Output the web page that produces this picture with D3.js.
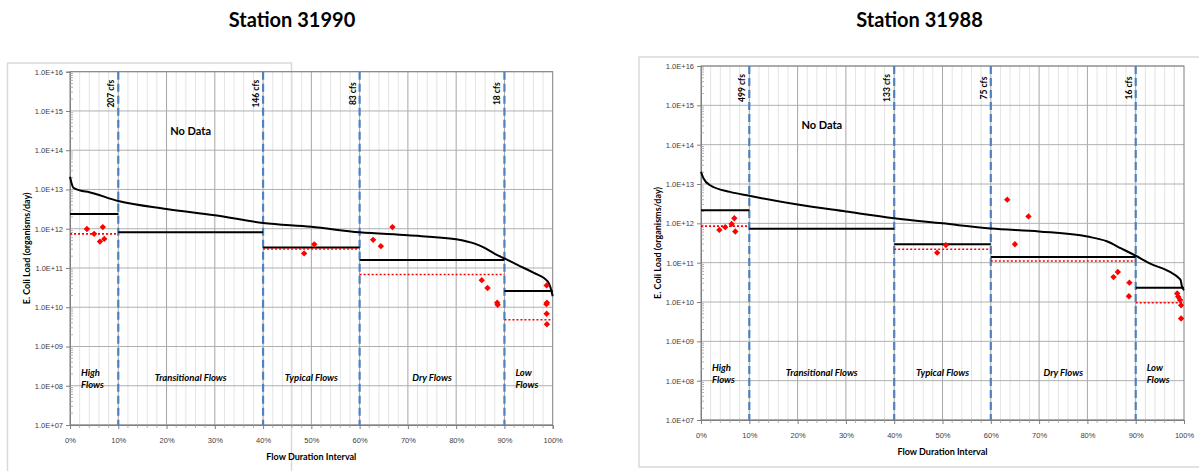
<!DOCTYPE html>
<html>
<head>
<meta charset="utf-8">
<script src="https://cdn.jsdelivr.net/npm/d3@7"></script>
<style>
  body { margin: 0; background: #fff; }
  svg { display: block; font-family: Lato, "Open Sans", "Liberation Sans", sans-serif; }
</style>
</head>
<body>
<svg id="chart" width="1199" height="471"></svg>
<script>
// ---------------- data ----------------
const stationTitles = ["Station 31990", "Station 31988"];
const xTickLabels = ["0%","10%","20%","30%","40%","50%","60%","70%","80%","90%","100%"];
const yTickLabels = ["1.0E+07","1.0E+08","1.0E+09","1.0E+10","1.0E+11","1.0E+12","1.0E+13","1.0E+14","1.0E+15","1.0E+16"];
const zoneBounds = [10, 40, 60, 90];
const zoneNames = [["High","Flows"],["Transitional Flows"],["Typical Flows"],["Dry Flows"],["Low","Flows"]];
const zoneStarts = [0, 10, 40, 60, 90];
const zoneEnds = [10, 40, 60, 90, 100];

// Station 31990
const flowLabelsA = ["207 cfs", "146 cfs", "83 cfs", "18 cfs"];
const curvePctA  = [0, 0.7, 2, 4, 10, 20, 30, 40, 50, 60, 70, 80, 84, 86, 88, 90, 93, 96, 99, 99.5, 100];
const curveLoadA = [2.1e13, 1.1e13, 9.5e12, 8.5e12, 5.1e12, 3.2e12, 2.2e12, 1.4e12, 1.12e12, 8.1e11, 6.8e11, 5.4e11, 4.1e11, 3.2e11, 2.3e11, 1.75e11, 1.15e11, 7.6e10, 4.5e10, 3.3e10, 1.9e10];
const allowableA = [2.37e12, 8.1e11, 3.3e11, 1.6e11, 2.6e10];
const geomeanA   = [7.4e11, null, 3.05e11, 6.8e10, 4.8e9];
const samplePctA  = [3.5, 5.0, 6.2, 6.8, 7.1, 48.5, 50.6, 62.8, 64.4, 66.8, 85.3, 86.5, 88.5, 88.6, 98.75, 98.8, 98.7, 98.75, 98.8];
const sampleLoadA = [9.8e11, 7.4e11, 4.7e11, 1.1e12, 5.5e11, 2.35e11, 4.0e11, 5.2e11, 3.6e11, 1.1e12, 4.9e10, 3.1e10, 1.3e10, 1.15e10, 3.6e10, 1.3e10, 1.2e10, 6.8e9, 3.7e9];
const noDataPosA = [25, 2.9e14];

// Station 31988
const flowLabelsB = ["499 cfs", "133 cfs", "75 cfs", "16 cfs"];
const curvePctB  = [0, 0.5, 1.9, 6, 10, 20, 30, 40, 50, 60, 70, 80, 84, 87, 90, 93, 97, 99, 99.3, 99.6, 100];
const curveLoadB = [2.05e13, 1.4e13, 9.3e12, 6.3e12, 5.0e12, 3.0e12, 2.0e12, 1.35e12, 1.0e12, 7.4e11, 6.2e11, 4.6e11, 3.5e11, 2.3e11, 1.5e11, 9.5e10, 5.9e10, 4.0e10, 3.6e10, 2.4e10, 2.0e10];
const allowableB = [2.15e12, 7.3e11, 2.95e11, 1.4e11, 2.3e10];
const geomeanB   = [8.5e11, null, 2.2e11, 1.1e11, 9.6e9];
const samplePctB  = [3.8, 5.0, 6.35, 6.9, 7.1, 48.9, 50.7, 63.4, 65.0, 67.8, 85.4, 86.3, 88.7, 88.6, 98.6, 98.8, 99.2, 99.4, 99.4];
const sampleLoadB = [6.8e11, 8.0e11, 9.6e11, 1.35e12, 6.2e11, 1.8e11, 2.8e11, 4.0e12, 2.95e11, 1.5e12, 4.3e10, 5.8e10, 3.1e10, 1.4e10, 1.65e10, 1.35e10, 1.12e10, 8.3e9, 3.8e9];
const noDataPosB = [25, 3.0e14];

// ---------------- drawing ----------------
const svg = d3.select("#chart");

function drawChart(cfg) {
  const g = svg.append("g");
  // outer frame
  g.append("rect").attr("x", cfg.frame[0]).attr("y", cfg.frame[1])
    .attr("width", cfg.frame[2]).attr("height", cfg.frame[3])
    .attr("fill", "none").attr("stroke", "#d9d9d9").attr("stroke-width", 1.5);

  // title
  g.append("text").attr("x", cfg.titleX).attr("y", 27)
    .attr("text-anchor", "middle").attr("font-size", 20).attr("font-weight", "bold")
    .text(cfg.title);

  const x = d3.scaleLinear().domain([0, 100]).range([cfg.x0, cfg.x1]);
  const y = d3.scaleLog().domain([1e7, 1e16]).range([cfg.y1, cfg.y0]);

  // minor vertical grid (every 2%)
  const minorX = d3.range(2, 100, 2).filter(v => v % 10 !== 0);
  g.append("g").selectAll("line").data(minorX).join("line")
    .attr("x1", d => x(d)).attr("x2", d => x(d))
    .attr("y1", cfg.y0).attr("y2", cfg.y1)
    .attr("stroke", "#e3e3e3").attr("stroke-width", 1);
  // major vertical grid
  g.append("g").selectAll("line").data(d3.range(10, 100, 10)).join("line")
    .attr("x1", d => x(d)).attr("x2", d => x(d))
    .attr("y1", cfg.y0).attr("y2", cfg.y1)
    .attr("stroke", "#a6a6a6").attr("stroke-width", 1);
  // horizontal grid at decades
  const decades = d3.range(7, 17).map(e => Math.pow(10, e));
  g.append("g").selectAll("line").data(decades).join("line")
    .attr("x1", cfg.x0).attr("x2", cfg.x1)
    .attr("y1", d => y(d)).attr("y2", d => y(d))
    .attr("stroke", "#b0b0b0").attr("stroke-width", 1);

  // plot border
  g.append("rect").attr("x", cfg.x0).attr("y", cfg.y0)
    .attr("width", cfg.x1 - cfg.x0).attr("height", cfg.y1 - cfg.y0)
    .attr("fill", "none").attr("stroke", "#7f7f7f").attr("stroke-width", 1);

  // y axis
  const yAxis = d3.axisLeft(y).tickValues(decades).tickSize(4)
    .tickFormat((d, i) => yTickLabels[i]);
  const ya = g.append("g").attr("transform", `translate(${cfg.x0},0)`).call(yAxis);
  ya.select(".domain").attr("stroke", "#7f7f7f");
  ya.selectAll(".tick line").attr("stroke", "#7f7f7f");
  ya.selectAll("text").attr("font-size", 7.5).attr("fill", "#404040")
    .attr("font-family", "'Liberation Sans', Arial, sans-serif");
  // y minor ticks inside
  const minorY = [];
  for (let e = 7; e < 16; e++) for (let m = 2; m <= 9; m++) minorY.push(m * Math.pow(10, e));
  g.append("g").selectAll("line").data(minorY).join("line")
    .attr("x1", cfg.x0).attr("x2", cfg.x0 + 3)
    .attr("y1", d => y(d)).attr("y2", d => y(d))
    .attr("stroke", "#a0a0a0").attr("stroke-width", 0.8);

  // x axis
  const xAxis = d3.axisBottom(x).tickValues(d3.range(0, 101, 10)).tickSize(4)
    .tickFormat((d, i) => xTickLabels[i]);
  const xa = g.append("g").attr("transform", `translate(0,${cfg.y1})`).call(xAxis);
  xa.select(".domain").attr("stroke", "#7f7f7f");
  xa.selectAll(".tick line").attr("stroke", "#7f7f7f");
  xa.selectAll("text").attr("font-size", 7.5).attr("fill", "#404040").attr("dy", "1.5em")
    .attr("font-family", "'Liberation Sans', Arial, sans-serif");
  g.append("g").selectAll("line").data(minorX).join("line")
    .attr("x1", d => x(d)).attr("x2", d => x(d))
    .attr("y1", cfg.y1).attr("y2", cfg.y1 + 3)
    .attr("stroke", "#a0a0a0").attr("stroke-width", 0.8);

  // axis titles
  g.append("text").attr("x", (cfg.x0 + cfg.x1) / 2).attr("y", cfg.y1 + 35)
    .attr("text-anchor", "middle").attr("font-size", 9).attr("font-weight", "bold")
    .text("Flow Duration Interval");
  g.append("text")
    .attr("transform", `translate(${cfg.x0 - 40},${(cfg.y0 + cfg.y1) / 2}) rotate(-90)`)
    .attr("text-anchor", "middle").attr("font-size", 9).attr("font-weight", "bold")
    .text("E. Coli Load (organisms/day)");

  // zone boundaries (dashed blue)
  g.append("g").selectAll("line").data(zoneBounds).join("line")
    .attr("x1", d => x(d)).attr("x2", d => x(d))
    .attr("y1", cfg.y0).attr("y2", cfg.y1)
    .attr("stroke", "#4f81bd").attr("stroke-width", 2.2)
    .attr("stroke-dasharray", "8,4");
  // flow labels
  g.append("g").selectAll("text").data(zoneBounds).join("text")
    .attr("transform", d => `translate(${x(d) - 4},${cfg.y0 + 22}) rotate(-90)`)
    .attr("text-anchor", "middle").attr("font-size", 8.5).attr("font-weight", "bold")
    .text((d, i) => cfg.flowLabels[i]);

  // zone names
  zoneNames.forEach((lines, i) => {
    const two = lines.length > 1;
    const t = g.append("text")
      .attr("font-size", 9.5).attr("font-weight", "bold").attr("font-style", "italic")
      .attr("text-anchor", two ? "start" : "middle");
    const xx = two ? x(zoneStarts[i]) + 11 : x((zoneStarts[i] + zoneEnds[i]) / 2);
    const yy = two ? y(1e8) - 10 : y(1e8) - 5;
    lines.forEach((ln, k) => {
      t.append("tspan").attr("x", xx).attr("y", yy + k * 12.5).text(ln);
    });
  });

  // No Data
  g.append("text").attr("x", x(cfg.noData[0])).attr("y", y(cfg.noData[1]))
    .attr("text-anchor", "middle").attr("font-size", 11).attr("font-weight", "bold")
    .attr("dominant-baseline", "middle").text("No Data");

  // duration curve
  const line = d3.line().x(d => x(d[0])).y(d => y(d[1])).curve(d3.curveMonotoneX);
  g.append("path").datum(cfg.curvePct.map((p, i) => [p, cfg.curveLoad[i]]))
    .attr("d", line).attr("fill", "none").attr("stroke", "#000").attr("stroke-width", 2);

  // allowable loads (black segments)
  g.append("g").selectAll("line").data(cfg.allowable).join("line")
    .attr("x1", (d, i) => x(zoneStarts[i])).attr("x2", (d, i) => x(zoneEnds[i]))
    .attr("y1", d => y(d)).attr("y2", d => y(d))
    .attr("stroke", "#000").attr("stroke-width", 2);

  // geomean (red dotted segments)
  const gm = cfg.geomean.map((v, i) => ({ v, i })).filter(d => d.v != null);
  g.append("g").selectAll("line").data(gm).join("line")
    .attr("x1", d => x(zoneStarts[d.i])).attr("x2", d => x(zoneEnds[d.i]))
    .attr("y1", d => y(d.v)).attr("y2", d => y(d.v))
    .attr("stroke", "#ff0000").attr("stroke-width", 1.6)
    .attr("stroke-dasharray", "2,2");

  // samples
  const sym = d3.symbol().type(d3.symbolDiamond2).size(26);
  g.append("g").selectAll("path").data(cfg.samplePct.map((p, i) => [p, cfg.sampleLoad[i]])).join("path")
    .attr("d", sym)
    .attr("transform", d => `translate(${x(d[0])},${y(d[1])})`)
    .attr("fill", "#ff0000");
}

drawChart({
  title: stationTitles[0], titleX: 292,
  frame: [7.5, 63, 284, 420],
  x0: 70, x1: 552.7, y0: 71.7, y1: 425,
  flowLabels: flowLabelsA, noData: noDataPosA,
  curvePct: curvePctA, curveLoad: curveLoadA,
  allowable: allowableA, geomean: geomeanA,
  samplePct: samplePctA, sampleLoad: sampleLoadA
});
drawChart({
  title: stationTitles[1], titleX: 919.5,
  frame: [639, 57, 570, 410],
  x0: 701, x1: 1184, y0: 66, y1: 420,
  flowLabels: flowLabelsB, noData: noDataPosB,
  curvePct: curvePctB, curveLoad: curveLoadB,
  allowable: allowableB, geomean: geomeanB,
  samplePct: samplePctB, sampleLoad: sampleLoadB
});
</script>
</body>
</html>
